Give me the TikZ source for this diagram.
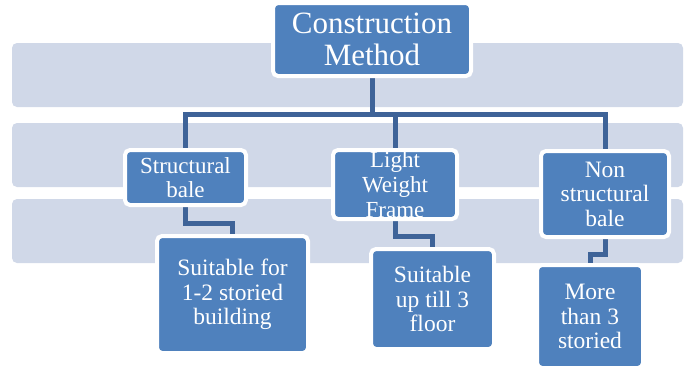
\documentclass[tikz,border=0pt]{standalone}
\usepackage{fontspec}
\setmainfont{Liberation Serif}
\definecolor{boxblue}{RGB}{79,129,189}
\definecolor{bandc}{RGB}{208,216,232}
\definecolor{connc}{RGB}{62,99,152}
\pgfdeclarelayer{bg}
\pgfsetlayers{bg,main}
\begin{document}
\begin{tikzpicture}[x=1pt,y=-1pt,
  box/.style={rectangle, rounded corners=5pt, fill=boxblue, draw=white, line width=4pt,
    text=white, align=center, inner sep=0pt},
  big/.style={font=\fontsize{31}{32}\selectfont},
  mid/.style={font=\fontsize{23}{24}\selectfont},
  low/.style={font=\fontsize{23.5}{24.5}\selectfont},
  conn/.style={draw=connc, line width=5pt},
  band/.style={fill=bandc, rounded corners=5pt}]
\useasboundingbox (0,0) rectangle (688,367);

\node[box, big, minimum width=198pt, minimum height=73pt] (top) at (372,39.5) {Construction\\Method};

\node[box, mid, minimum width=121pt, minimum height=55pt] (sb) at (185.5,177.5) {Structural\\bale};
\node[box, font=\fontsize{23}{25}\selectfont, minimum width=124pt, minimum height=69pt] (lwf) at (395,184.5) {Light\\Weight\\Frame};
\node[box, low, minimum width=128pt, minimum height=86pt] (nsb) at (605,194) {Non\\structural\\bale};

\node[box, low, minimum width=151pt, minimum height=117pt] (sf) at (232.5,294.5) {Suitable for\\1-2 storied\\building};
\node[box, low, minimum width=123pt, minimum height=100pt] (sut) at (432.5,299) {Suitable\\up till 3\\floor};
\node[box, low, minimum width=106pt, minimum height=103pt] (mt) at (590,316.5) {More\\than 3\\storied};

\begin{pgfonlayer}{bg}
\fill[white] (0,0) rectangle (688,367);
\fill[band] (12,43) rectangle (683,107);
\fill[band] (12,123) rectangle (683,187);
\fill[band] (12,199) rectangle (683,263);
\coordinate (hub) at (372,114);
\draw[conn] (top.south) -- (hub);
\draw[conn] (sb.north) |- (nsb.north |- hub) -- (nsb.north);
\draw[conn] (lwf.north) -- (lwf.north |- hub);
\draw[conn] (sb.south) -- ++(0,16) -| (sf.north);
\draw[conn] (lwf.south) -- ++(0,15) -| (sut.north);
\draw[conn] (nsb.south) -- ++(0,15) -| (mt.north);
\end{pgfonlayer}
\end{tikzpicture}
\end{document}
